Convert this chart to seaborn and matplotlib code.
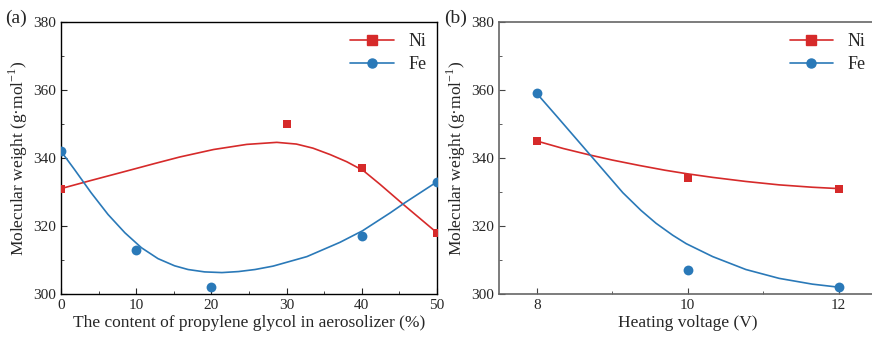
import numpy as np
import pandas as pd
import matplotlib
matplotlib.use("Agg")
import matplotlib.pyplot as plt
from matplotlib.lines import Line2D
import seaborn as sns

sns.set_style("ticks")
plt.rcParams['font.family'] = ['Liberation Serif', 'DejaVu Serif']
plt.rcParams['mathtext.fontset'] = 'custom'
plt.rcParams['mathtext.rm'] = 'Liberation Serif'

RED = "#d62a2a"
BLUE = "#2a79b8"

# panel (a): propylene glycol content
pg_ni_x = [0, 30, 40, 50]
pg_ni_y = [331, 350, 337, 318]
pg_fe_x = [0, 10, 20, 40, 50]
pg_fe_y = [342, 313, 302, 317, 333]
# fitted curves
pg_ni_fit_x = [0, 4, 8.1, 12.5, 15.8, 20.3, 24.7, 28.7, 31.3, 33.5, 35.8, 38.0, 40.2, 42.4, 45.7, 50]
pg_ni_fit_y = [331, 333.4, 335.8, 338.4, 340.3, 342.5, 344.0, 344.6, 344.1, 342.9, 341.0, 338.9, 336.3, 332.3, 326.0, 318]
pg_fe_fit_x = [0, 1.8, 4.0, 6.25, 8.5, 10.7, 12.9, 15.1, 16.9, 19.1, 21.4, 23.6, 25.8, 28.2,
               32.7, 37.1, 40.1, 43.8, 45.7, 50]
pg_fe_fit_y = [342, 336.6, 329.8, 323.4, 318.0, 313.6, 310.4, 308.3, 307.2, 306.5, 306.3, 306.6,
               307.2, 308.2, 311.0, 315.2, 318.6, 323.9, 326.8, 333]

# panel (b): heating voltage
hv_x = [8, 10, 12]
hv_ni_y = [345, 334, 331]
hv_fe_y = [359, 307, 302]
hv_ni_fit_x = [8, 8.35, 8.7, 9.0, 9.36, 9.7, 9.98, 10.33, 10.77, 11.21, 11.65, 12]
hv_ni_fit_y = [345, 342.8, 340.9, 339.4, 337.8, 336.4, 335.4, 334.3, 333.1, 332.1, 331.4, 331]
hv_fe_fit_x = [8, 8.26, 8.7, 9.14, 9.38, 9.58, 9.8, 9.98, 10.33, 10.77, 11.21, 11.65, 12]
hv_fe_fit_y = [359, 352.4, 341.1, 329.8, 324.6, 320.8, 317.3, 314.8, 311.0, 307.2, 304.6, 302.9, 302]

fig = plt.figure(figsize=(8.72, 3.4), dpi=100)
ax1 = fig.add_axes([61 / 872, 1 - 294 / 340, 376 / 872, 272 / 340])
ax2 = fig.add_axes([499 / 872, 1 - 294 / 340, 377.5 / 872, 272 / 340])


def draw(ax, ni_x, ni_y, fe_x, fe_y, nfx, nfy, ffx, ffy):
    sns.lineplot(x=nfx, y=nfy, ax=ax, color=RED, lw=1.2, sort=False, estimator=None)
    sns.lineplot(x=ffx, y=ffy, ax=ax, color=BLUE, lw=1.2, sort=False, estimator=None)
    sns.scatterplot(x=ni_x, y=ni_y, ax=ax, color=RED, marker="s", s=40, linewidth=0, zorder=3)
    sns.scatterplot(x=fe_x, y=fe_y, ax=ax, color=BLUE, marker="o", s=50, linewidth=0, zorder=3)
    handles = [
        Line2D([], [], color=RED, marker="s", ms=6.5, lw=1.2),
        Line2D([], [], color=BLUE, marker="o", ms=6.5, lw=1.2),
    ]
    ax.legend(handles, ["Ni", "Fe"], loc="upper right", frameon=False, fontsize=13,
              handlelength=2.4, borderaxespad=0.2, labelspacing=0.35)
    ax.set_ylim(300, 380)
    ax.set_yticks([300, 320, 340, 360, 380])
    ax.set_yticks([310, 330, 350, 370], minor=True)
    ax.tick_params(which="both", direction="in", labelsize=11, top=False, right=False)
    ax.tick_params(which="major", length=4)
    ax.tick_params(which="minor", length=2.5)
    ax.set_ylabel("Molecular weight (g·mol$^{-1}$)", fontsize=12.5, labelpad=2)


draw(ax1, pg_ni_x, pg_ni_y, pg_fe_x, pg_fe_y, pg_ni_fit_x, pg_ni_fit_y, pg_fe_fit_x, pg_fe_fit_y)
ax1.set_xlim(0, 50)
ax1.set_xticks([0, 10, 20, 30, 40, 50])
ax1.set_xticks([5, 15, 25, 35, 45], minor=True)
ax1.set_xlabel("The content of propylene glycol in aerosolizer (%)", fontsize=12.5, labelpad=2)
for sp in ax1.spines.values():
    sp.set_color("black")
    sp.set_linewidth(1.0)

draw(ax2, hv_x, hv_ni_y, hv_x, hv_fe_y, hv_ni_fit_x, hv_ni_fit_y, hv_fe_fit_x, hv_fe_fit_y)
ax2.set_xlim(7.5, 12.5)
ax2.set_xticks([8, 10, 12])
ax2.set_xticks([9, 11], minor=True)
ax2.set_xlabel("Heating voltage (V)", fontsize=12.5, labelpad=2)
for sp in ax2.spines.values():
    sp.set_color("#666666")
    sp.set_linewidth(1.2)
ax2.tick_params(which="both", color="#444444")

fig.text(5 / 872, 1 - 18 / 340, "(a)", fontsize=14, va="center")
fig.text(444 / 872, 1 - 18 / 340, "(b)", fontsize=14, va="center")

fig.savefig("out.png", dpi=100)
